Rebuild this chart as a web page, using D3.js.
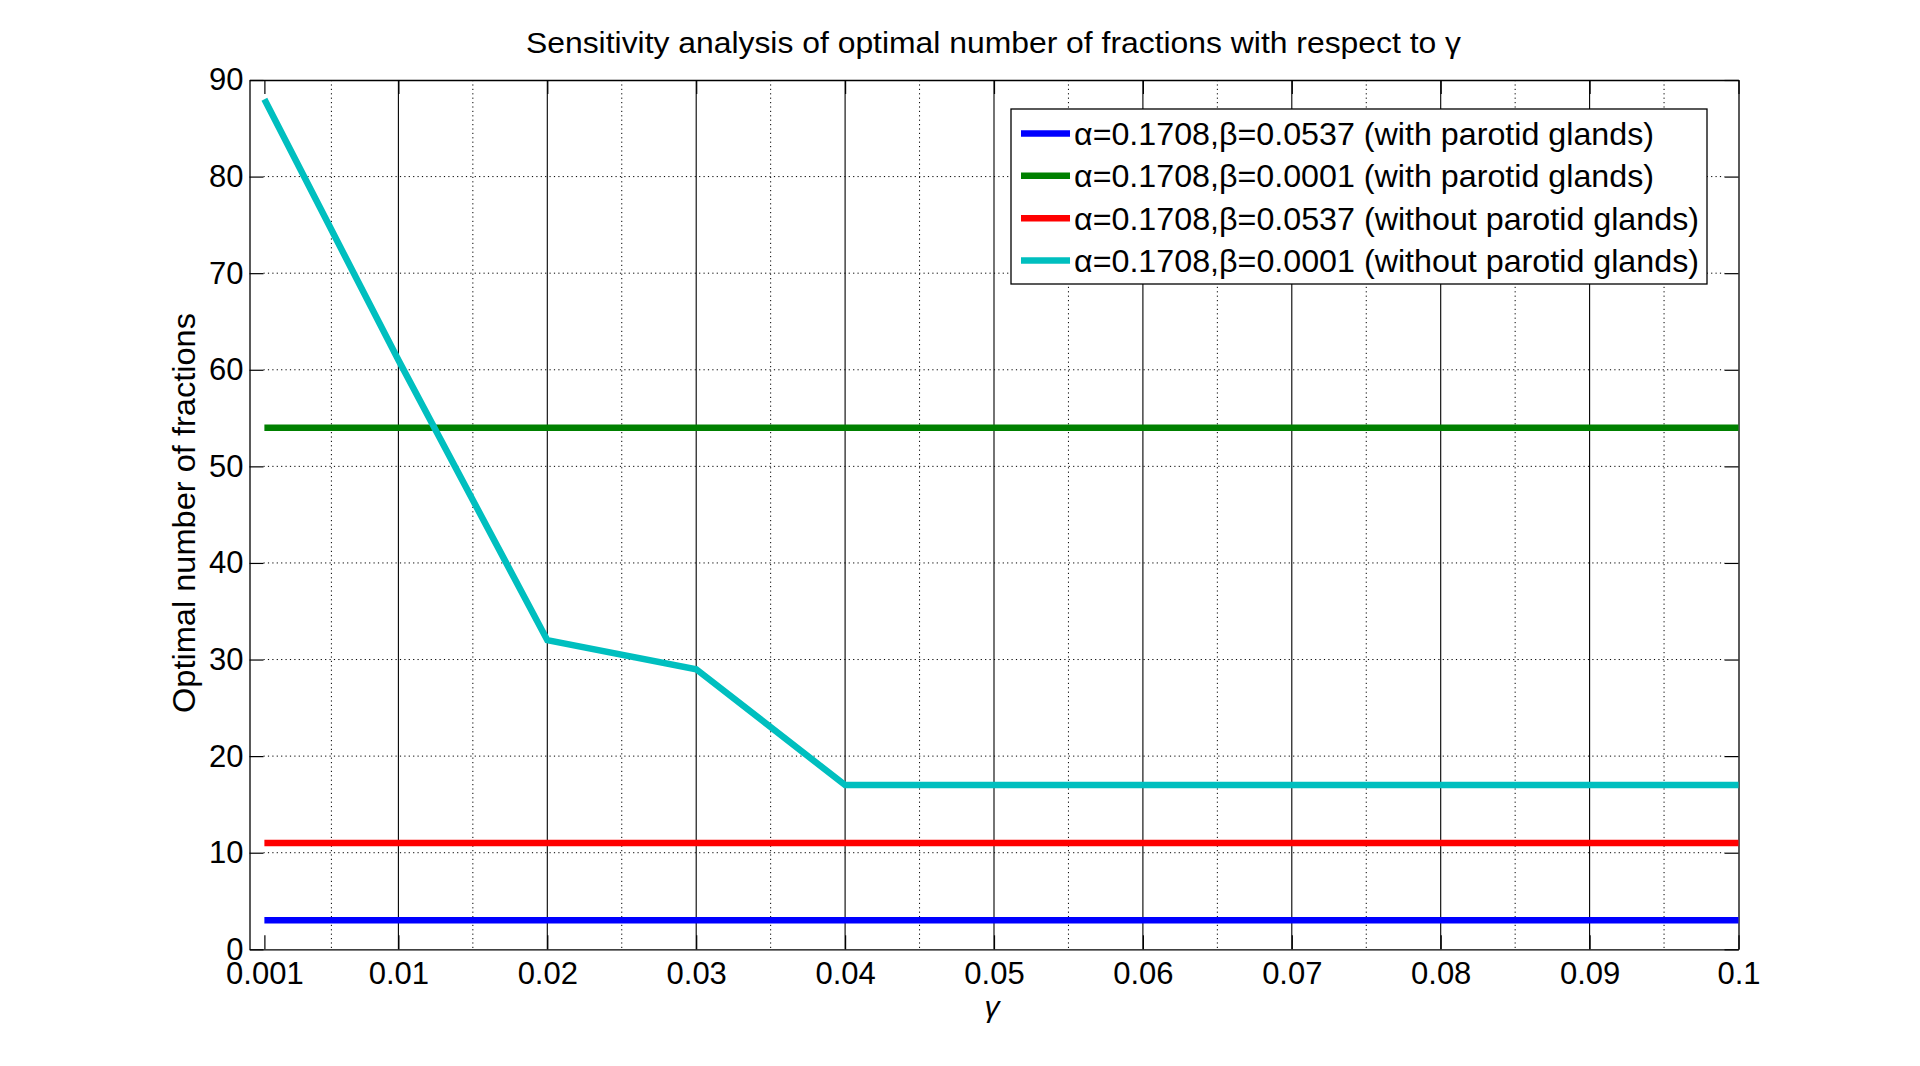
<!DOCTYPE html>
<html>
<head>
<meta charset="utf-8">
<script src="https://cdn.jsdelivr.net/npm/d3@7/dist/d3.min.js"></script>
<style>
  html, body { margin: 0; padding: 0; background: #fff; }
  svg { display: block; }
  text { font-family: "Liberation Sans", Arial, sans-serif; fill: #000; }
</style>
</head>
<body>
<svg id="chart" width="1920" height="1066"></svg>
<script>
// ---------------- data ----------------
const gammaValues = [0.001, 0.01, 0.02, 0.03, 0.04, 0.05, 0.06, 0.07, 0.08, 0.09, 0.1];
const withParotidBeta0537 = [3, 3, 3, 3, 3, 3, 3, 3, 3, 3, 3];
const withParotidBeta0001 = [54, 54, 54, 54, 54, 54, 54, 54, 54, 54, 54];
const withoutParotidBeta0537 = [11, 11, 11, 11, 11, 11, 11, 11, 11, 11, 11];
const withoutParotidBeta0001 = [88, 61, 32, 29, 17, 17, 17, 17, 17, 17, 17];
const seriesLabels = [
  "α=0.1708,β=0.0537 (with parotid glands)",
  "α=0.1708,β=0.0001 (with parotid glands)",
  "α=0.1708,β=0.0537 (without parotid glands)",
  "α=0.1708,β=0.0001 (without parotid glands)"
];
const seriesColors = ["#0000ff", "#008000", "#ff0000", "#00bfbf"];
const xTickValues = [0.001, 0.01, 0.02, 0.03, 0.04, 0.05, 0.06, 0.07, 0.08, 0.09, 0.1];
const xTickLabels = ["0.001", "0.01", "0.02", "0.03", "0.04", "0.05", "0.06", "0.07", "0.08", "0.09", "0.1"];
const xMinorGrid = [0.0055, 0.015, 0.025, 0.035, 0.045, 0.055, 0.065, 0.075, 0.085, 0.095];
const yTickValues = [0, 10, 20, 30, 40, 50, 60, 70, 80, 90];
const titleText = "Sensitivity analysis of optimal number of fractions with respect to γ";
const xLabelText = "γ";
const yLabelText = "Optimal number of fractions";

// ---------------- layout ----------------
const svg = d3.select("#chart");
const L = 249.5, R = 1738.5, T = 80, B = 949.3;
const x = d3.scaleLinear().domain([0, 0.1]).range([L, R]);
const y = d3.scaleLinear().domain([0, 90]).range([B, T]);
const tickLen = 14;

const allSeries = [withParotidBeta0537, withParotidBeta0001, withoutParotidBeta0537, withoutParotidBeta0001];

// grid
const grid = svg.append("g");
grid.selectAll("line.vmaj").data(xTickValues.slice(1, -1)).enter().append("line")
  .attr("x1", d => x(d)).attr("x2", d => x(d)).attr("y1", T).attr("y2", B)
  .attr("stroke", "#000").attr("stroke-width", 1.1);
grid.selectAll("line.vmin").data(xMinorGrid).enter().append("line")
  .attr("x1", d => x(d)).attr("x2", d => x(d)).attr("y1", T).attr("y2", B)
  .attr("stroke", "#000").attr("stroke-width", 1).attr("stroke-dasharray", "1.2,3.2");
grid.selectAll("line.h").data(yTickValues.slice(1, -1)).enter().append("line")
  .attr("x1", L + tickLen).attr("x2", R - tickLen).attr("y1", d => y(d)).attr("y2", d => y(d))
  .attr("stroke", "#000").attr("stroke-width", 1).attr("stroke-dasharray", "1.2,3.2");

// axes
const fmtX = (d, i) => xTickLabels[i];
const axB = svg.append("g").attr("transform", `translate(0,${B})`)
  .call(d3.axisBottom(x).tickValues(xTickValues).tickFormat(fmtX).tickSizeInner(-tickLen).tickSizeOuter(0).tickPadding(13));
const axT = svg.append("g").attr("transform", `translate(0,${T})`)
  .call(d3.axisTop(x).tickValues(xTickValues).tickFormat("").tickSizeInner(-tickLen).tickSizeOuter(0));
const axLft = svg.append("g").attr("transform", `translate(${L},0)`)
  .call(d3.axisLeft(y).tickValues(yTickValues).tickFormat(d3.format("d")).tickSizeInner(-tickLen).tickSizeOuter(0).tickPadding(6));
const axRt = svg.append("g").attr("transform", `translate(${R},0)`)
  .call(d3.axisRight(y).tickValues(yTickValues).tickFormat("").tickSizeInner(-tickLen).tickSizeOuter(0));
[axB, axT, axLft, axRt].forEach(g => {
  g.selectAll("path.domain").attr("stroke", "#000").attr("stroke-width", 1.3);
  g.selectAll(".tick line").attr("stroke", "#000").attr("stroke-width", 1.2);
  g.selectAll("text").attr("font-size", 31).attr("font-family", "Liberation Sans, Arial, sans-serif").attr("fill", "#000");
});

// lines
const lineGen = d3.line().x((d, i) => x(gammaValues[i])).y(d => y(d));
svg.append("g").selectAll("path.series").data(allSeries).enter().append("path")
  .attr("d", d => lineGen(d))
  .attr("fill", "none")
  .attr("stroke", (d, i) => seriesColors[i])
  .attr("stroke-width", 6.5)
  .attr("stroke-linejoin", "miter");

// title
svg.append("text").attr("x", 993.5).attr("y", 52.7).attr("text-anchor", "middle")
  .attr("font-size", 30).attr("textLength", 935).attr("lengthAdjust", "spacingAndGlyphs")
  .text(titleText);

// x label
svg.append("text").attr("x", 992).attr("y", 1017).attr("text-anchor", "middle")
  .attr("font-size", 30).attr("font-family", "Liberation Serif, serif").attr("font-style", "italic")
  .text(xLabelText);

// y label
svg.append("text").attr("transform", "translate(195,513) rotate(-90)").attr("text-anchor", "middle")
  .attr("font-size", 32).attr("textLength", 400).attr("lengthAdjust", "spacingAndGlyphs")
  .text(yLabelText);

// legend
const legX0 = 1011, legX1 = 1707, legY0 = 109, legY1 = 284;
const leg = svg.append("g");
leg.append("rect").attr("x", legX0).attr("y", legY0).attr("width", legX1 - legX0).attr("height", legY1 - legY0)
  .attr("fill", "#fff").attr("stroke", "#000").attr("stroke-width", 1.3);
const rowY = d3.scaleLinear().domain([0, 3]).range([133.5, 260.5]);
const textLens = [580, 580, 625, 625];
const rows = leg.selectAll("g.row").data(seriesLabels).enter().append("g")
  .attr("transform", (d, i) => `translate(0,${rowY(i)})`);
rows.append("line").attr("x1", 1021).attr("x2", 1070).attr("y1", 0).attr("y2", 0)
  .attr("stroke", (d, i) => seriesColors[i]).attr("stroke-width", 6.5);
rows.append("text").attr("x", 1074).attr("y", 11.5).attr("font-size", 32)
  .attr("textLength", (d, i) => textLens[i]).attr("lengthAdjust", "spacingAndGlyphs")
  .text(d => d);
</script>
</body>
</html>
